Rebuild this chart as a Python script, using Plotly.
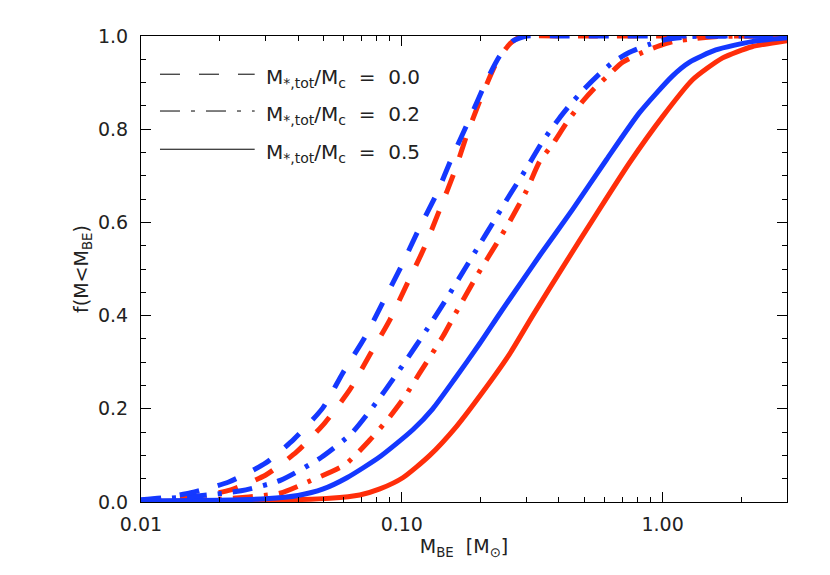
import plotly.graph_objects as go

# ---------------- data ----------------
# M*,tot/Mc = 0.0  (dashed)
x_blue_00 = [0.01, 0.0125, 0.01555, 0.0217, 0.0301, 0.0386, 0.0498, 0.0594, 0.0721, 0.0846,
             0.1, 0.1152, 0.1362, 0.1554, 0.1822, 0.2117, 0.2373, 0.2663, 0.3013, 0.4, 0.7, 1.2, 2.0, 3.0]
y_blue_00 = [0.005, 0.01, 0.02, 0.043, 0.084, 0.135, 0.202, 0.277, 0.353, 0.428,
             0.508, 0.581, 0.662, 0.738, 0.823, 0.905, 0.957, 0.989, 1.0, 1.0, 1.0, 1.0, 1.0, 1.0]
x_red_00 = [0.01, 0.0125, 0.01555, 0.0221, 0.0301, 0.0396, 0.0507, 0.0632, 0.0754, 0.09,
            0.1054, 0.1225, 0.1399, 0.1596, 0.1774, 0.2026, 0.2312, 0.2593, 0.2832, 0.3093, 0.5, 1.0, 2.0, 3.0]
y_red_00 = [0.003, 0.006, 0.01, 0.026, 0.058, 0.108, 0.170, 0.241, 0.316, 0.391,
            0.471, 0.548, 0.628, 0.710, 0.787, 0.871, 0.944, 0.983, 0.998, 1.0, 1.0, 1.0, 1.0, 1.0]

# M*,tot/Mc = 0.2  (dash-dot)
x_blue_02 = [0.01, 0.0165, 0.0242, 0.0344, 0.0489, 0.0643, 0.0824, 0.1027, 0.1247, 0.1487,
             0.1743, 0.2, 0.224, 0.26, 0.3, 0.347, 0.40, 0.44, 0.50, 0.574, 0.643, 0.747,
             0.89, 1.04, 1.3, 2.0, 3.0]
y_blue_02 = [0.004, 0.013, 0.024, 0.047, 0.095, 0.148, 0.224, 0.300, 0.370, 0.437,
             0.500, 0.555, 0.600, 0.660, 0.715, 0.774, 0.822, 0.851, 0.886, 0.919, 0.943, 0.965,
             0.982, 0.993, 0.999, 1.0, 1.0]
x_red_02 = [0.01, 0.02, 0.0341, 0.0444, 0.0605, 0.0754, 0.09, 0.1027, 0.1172, 0.1436,
            0.159, 0.1938, 0.2312, 0.26, 0.3, 0.338, 0.379, 0.43, 0.494, 0.55, 0.61, 0.703,
            0.84, 0.97, 1.1, 1.35, 1.65, 3.0]
y_red_02 = [0.002, 0.006, 0.019, 0.045, 0.080, 0.133, 0.183, 0.226, 0.277, 0.355,
            0.400, 0.485, 0.555, 0.603, 0.667, 0.731, 0.768, 0.815, 0.860, 0.889, 0.912, 0.944,
            0.965, 0.979, 0.988, 0.995, 0.999, 1.0]

# M*,tot/Mc = 0.5  (solid)
x_blue_05 = [0.01, 0.02, 0.03, 0.04, 0.05, 0.0616, 0.0824, 0.1102, 0.1314, 0.16,
             0.199, 0.2373, 0.29, 0.338, 0.452, 0.61, 0.817, 1.09, 1.27, 1.6,
             2.2, 3.0]
y_blue_05 = [0.002, 0.004, 0.007, 0.014, 0.028, 0.052, 0.097, 0.155, 0.200, 0.265,
             0.340, 0.404, 0.475, 0.529, 0.628, 0.735, 0.836, 0.914, 0.944, 0.970,
             0.988, 0.996]
x_red_05 = [0.01, 0.02, 0.0341, 0.053, 0.069, 0.0824, 0.1009, 0.128, 0.1625, 0.2043,
            0.2593, 0.3177, 0.421, 0.559, 0.747, 1.0, 1.303, 1.7, 2.2, 3.0]
y_red_05 = [0.001, 0.002, 0.004, 0.008, 0.015, 0.028, 0.052, 0.100, 0.163, 0.236,
            0.318, 0.400, 0.510, 0.619, 0.728, 0.827, 0.906, 0.953, 0.977, 0.990]

legend_labels = ["0.0", "0.2", "0.5"]
x_tick_vals = [0.01, 0.1, 1.0]
x_tick_text = ["0.01", "0.10", "1.00"]
y_tick_vals = [0.0, 0.2, 0.4, 0.6, 0.8, 1.0]
y_tick_text = ["0.0", "0.2", "0.4", "0.6", "0.8", "1.0"]

# ---------------- styling ----------------
BLUE = "#1438ff"
RED = "#ff2e0a"
LW = 5
DASH = "20px,19px"
DASHDOT = "20px,11px,4px,11px"
FONT = "DejaVu Sans"
TXT = "#222222"
FS = 19
NB = "\u00a0"

fig = go.Figure()

curves = [
    (x_red_05, y_red_05, RED, "solid"),
    (x_red_02, y_red_02, RED, DASHDOT),
    (x_red_00, y_red_00, RED, DASH),
    (x_blue_05, y_blue_05, BLUE, "solid"),
    (x_blue_02, y_blue_02, BLUE, DASHDOT),
    (x_blue_00, y_blue_00, BLUE, DASH),
]
for xs, ys, col, dash in curves:
    fig.add_trace(go.Scatter(x=xs, y=ys, mode="lines",
                             line=dict(color=col, width=LW, dash=dash, shape="spline", smoothing=0.6),
                             showlegend=False, hoverinfo="skip"))

# legend (drawn manually, IDL style)
leg_dash = [DASH, DASHDOT, "solid"]
leg_y = [0.918, 0.839, 0.757]
for lab, dsh, yy in zip(legend_labels, leg_dash, leg_y):
    fig.add_shape(type="line", xref="paper", yref="paper",
                  x0=0.0294, x1=0.176, y0=yy, y1=yy,
                  line=dict(color="black", width=1, dash=dsh))
    fig.add_annotation(xref="paper", yref="paper", x=0.190, y=yy - 0.008,
                       xanchor="left", yanchor="middle", showarrow=False,
                       text="M<sub>*,tot</sub>/M<sub>c</sub>" + NB * 2 + "=" + NB * 2 + lab,
                       font=dict(family=FONT, size=20, color=TXT))

minor_x = []
for dec in [0.01, 0.1, 1.0]:
    for k in range(2, 10):
        v = dec * k
        if v <= 3.0:
            minor_x.append(v)

axis_common = dict(showline=True, linecolor="black", linewidth=1, mirror="allticks",
                   ticks="inside", ticklen=10, tickwidth=1, tickcolor="black",
                   showgrid=False, zeroline=False,
                   tickfont=dict(family=FONT, size=FS, color=TXT))

fig.update_xaxes(type="log", range=[-2, 0.4771], tickmode="array",
                 tickvals=x_tick_vals, ticktext=x_tick_text, ticklabelstandoff=5,
                 minor=dict(tickmode="array", tickvals=minor_x, ticks="inside",
                            ticklen=5, tickcolor="black", tickwidth=1, showgrid=False),
                 title=dict(text="M<sub>BE</sub>" + NB * 2 + "[M<sub>\u2299</sub>]",
                            font=dict(family=FONT, size=FS, color=TXT), standoff=4),
                 **axis_common)
fig.update_yaxes(range=[0, 1.0], tickmode="array", tickvals=y_tick_vals, ticktext=y_tick_text,
                 ticklabelstandoff=8,
                 minor=dict(dtick=0.05, ticks="inside", ticklen=5, tickcolor="black",
                            tickwidth=1, showgrid=False),
                 title=dict(text="f(M&lt;M<sub>BE</sub>)",
                            font=dict(family=FONT, size=FS, color=TXT), standoff=4),
                 **axis_common)

# the page body adds an 8px offset; plot area spans x 141-787, y 36-502 in the window
fig.update_layout(width=822, height=567, autosize=False,
                  margin=dict(l=133, r=43, t=28, b=73, autoexpand=False),
                  paper_bgcolor="white", plot_bgcolor="white",
                  showlegend=False)

fig.write_html("out.html")
